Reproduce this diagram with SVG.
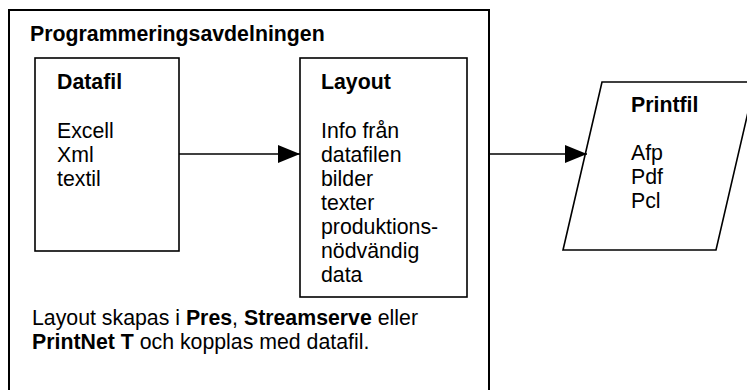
<svg xmlns="http://www.w3.org/2000/svg" width="747" height="390" viewBox="0 0 747 390">
<style>
text{font-family:"Liberation Sans",Arial,sans-serif;font-size:21.3px;fill:#000}
.b{font-weight:bold}
.box{fill:#fff;stroke:#000;stroke-width:1.6}
.outer{fill:#fff;stroke:#000;stroke-width:2}
.conn{stroke:#000;stroke-width:1.6;fill:none}
</style>
<defs>
<marker id="arr" markerWidth="22" markerHeight="18" refX="22" refY="9" orient="auto" markerUnits="userSpaceOnUse">
<path d="M0,0 L22,9 L0,18 Z" fill="#000"/>
</marker>
</defs>
<rect width="747" height="390" fill="#fff"/>
<g id="programmeringsavdelningen">
<rect class="outer" x="9" y="10" width="480" height="390"/>
<text class="b" x="30" y="41">Programmeringsavdelningen</text>
<text x="32" y="325">Layout skapas i <tspan class="b">Pres</tspan>, <tspan class="b">Streamserve</tspan> eller</text>
<text x="32" y="349"><tspan class="b">PrintNet T</tspan> och kopplas med datafil.</text>
</g>
<g id="datafil">
<rect class="box" x="35" y="58" width="144" height="193"/>
<text class="b" x="57" y="89">Datafil</text>
<text x="57" y="138">Excell</text>
<text x="57" y="162">Xml</text>
<text x="57" y="186">textil</text>
</g>
<g id="layout">
<rect class="box" x="300" y="58" width="167" height="239"/>
<text class="b" x="321" y="89">Layout</text>
<text x="321" y="138">Info från</text>
<text x="321" y="162">datafilen</text>
<text x="321" y="186">bilder</text>
<text x="321" y="210">texter</text>
<text x="321" y="234">produktions-</text>
<text x="321" y="258">nödvändig</text>
<text x="321" y="282">data</text>
</g>
<g id="printfil">
<polygon class="box" points="602,82 755,82 716,250 563,250"/>
<text class="b" x="631" y="112">Printfil</text>
<text x="631" y="160">Afp</text>
<text x="631" y="184">Pdf</text>
<text x="631" y="208">Pcl</text>
</g>
<g id="connectors">
<line class="conn" x1="179" y1="154" x2="300" y2="154" marker-end="url(#arr)"/>
<line class="conn" x1="489" y1="154" x2="587" y2="154" marker-end="url(#arr)"/>
</g>
</svg>
